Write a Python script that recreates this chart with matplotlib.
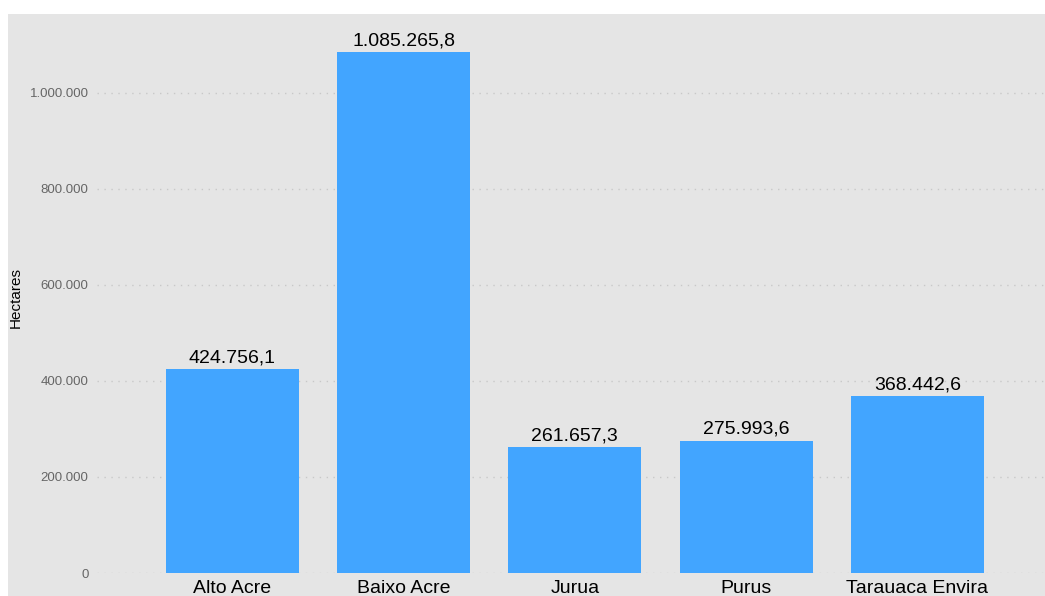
import matplotlib
matplotlib.use("Agg")
import matplotlib.pyplot as plt
from matplotlib.patches import Rectangle
from matplotlib.ticker import FuncFormatter

categories = ["Alto Acre", "Baixo Acre", "Jurua", "Purus", "Tarauaca Envira"]
values = [424756.1, 1085265.8, 261657.3, 275993.6, 368442.6]
yticks = [0, 200000, 400000, 600000, 800000, 1000000]

plt.rcParams['font.family'] = ['Liberation Sans', 'DejaVu Sans']

def fmt_int(v):
    return f"{int(round(v)):,}".replace(",", ".")

def fmt_val(v):
    s = f"{v:,.1f}"
    return s.replace(",", "X").replace(".", ",").replace("X", ".")

W, H = 1045, 596
fig = plt.figure(figsize=(W / 100, H / 100), dpi=100)
fig.patches.append(Rectangle((8 / W, 0), 1 - 8 / W, 1 - 14 / H, transform=fig.transFigure,
                             facecolor="#e5e5e5", edgecolor="none", zorder=-10))

ax = fig.add_axes([97 / W, 23 / H, 1 - 97 / W, 559 / H])
ax.set_facecolor("#e5e5e5")
x = list(range(len(categories)))
bars = ax.bar(x, values, width=0.777, color="#42a5ff", zorder=3)
ax.set_xlim(-0.79, 4.745)
ax.set_ylim(0, 1164583)
ax.set_yticks(yticks)
ax.yaxis.set_major_formatter(FuncFormatter(lambda v, p: fmt_int(v)))
ax.grid(axis="y", linestyle=(0, (1, 4)), color="#c8c8c8", linewidth=1, zorder=0)
ax.set_xticks(x)
ax.set_xticklabels(categories, fontsize=14, color="black")
ax.tick_params(axis="x", length=0, pad=5)
ax.tick_params(axis="y", length=0, pad=6, labelsize=9.5, labelcolor="#666666")
for s in ax.spines.values():
    s.set_visible(False)

for xi, v in zip(x, values):
    ax.annotate(fmt_val(v), (xi, v), xytext=(0, 2), textcoords="offset points",
                ha="center", va="bottom", fontsize=14, color="black")

fig.text(16 / W, 0.5, "Hectares", rotation=90, ha="center", va="center", fontsize=11, color="black")

fig.savefig("out.png", dpi=100)
